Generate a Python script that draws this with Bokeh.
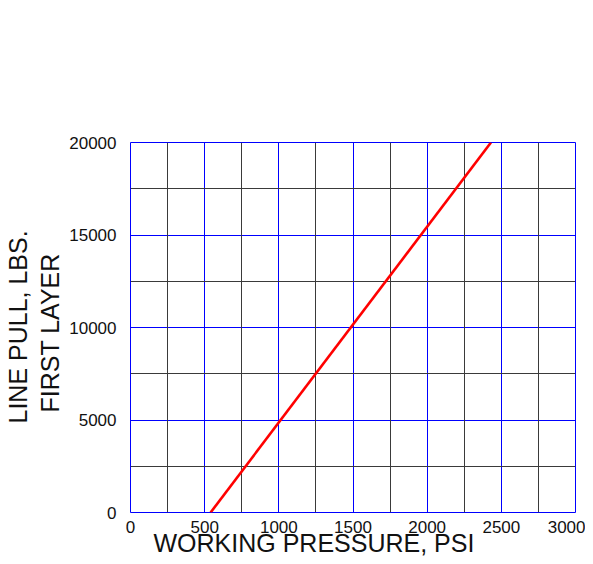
from bokeh.plotting import figure
from bokeh.models import Range1d, FixedTicker, Grid, Title
from bokeh.embed import file_html
from bokeh.resources import INLINE

# data
pressure = [540, 2430]
line_pull = [0, 20000]
x_ticks = [0, 500, 1000, 1500, 2000, 2500, 3000]
x_minor = [250, 750, 1250, 1750, 2250, 2750]
y_ticks = [0, 5000, 10000, 15000, 20000]
y_minor = [2500, 7500, 12500, 17500]
x_title = "WORKING PRESSURE, PSI"
y_title_1 = "LINE PULL, LBS."
y_title_2 = "FIRST LAYER"

FONT = "Liberation Sans"

p = figure(width=585, height=556, output_backend="svg", toolbar_location=None,
           x_range=Range1d(0, 3000), y_range=Range1d(0, 20000),
           min_border_left=130, min_border_right=10, min_border_top=142, min_border_bottom=44)
p.background_fill_color = "white"
p.border_fill_color = "white"
p.outline_line_color = "#0000ff"
p.outline_line_width = 1

for ax, ticks in ((p.xaxis[0], x_ticks), (p.yaxis[0], y_ticks)):
    ax.ticker = FixedTicker(ticks=ticks)
    ax.axis_line_color = None
    ax.major_tick_line_color = None
    ax.minor_tick_line_color = None
    ax.major_label_text_font = FONT
    ax.major_label_text_font_size = "17px"
    ax.major_label_text_color = "#111111"
p.xaxis[0].major_label_standoff = 2
p.yaxis[0].major_label_standoff = 8

p.xgrid[0].ticker = FixedTicker(ticks=x_ticks)
p.ygrid[0].ticker = FixedTicker(ticks=y_ticks)
for g in (p.xgrid[0], p.ygrid[0]):
    g.grid_line_color = "#0000ff"
    g.grid_line_width = 1
    g.grid_line_alpha = 1.0

p.add_layout(Grid(dimension=0, ticker=FixedTicker(ticks=x_minor),
                  grid_line_color="#3a3a3a", grid_line_width=1))
p.add_layout(Grid(dimension=1, ticker=FixedTicker(ticks=y_minor),
                  grid_line_color="#3a3a3a", grid_line_width=1))

p.line(pressure, line_pull, line_color="#ff0000", line_width=2.6)

p.add_layout(Title(text=x_title, text_font=FONT, text_font_size="25px",
                   text_font_style="normal", text_color="#111111",
                   align="left", offset=23, standoff=-18), "below")
p.add_layout(Title(text=y_title_2, text_font=FONT, text_font_size="25px",
                   text_font_style="normal", text_color="#111111",
                   align="left", offset=100, standoff=5), "left")
p.add_layout(Title(text=y_title_1, text_font=FONT, text_font_size="25px",
                   text_font_style="normal", text_color="#111111",
                   align="left", offset=89, standoff=0), "left")

open("out.html", "w").write(file_html(p, INLINE))
